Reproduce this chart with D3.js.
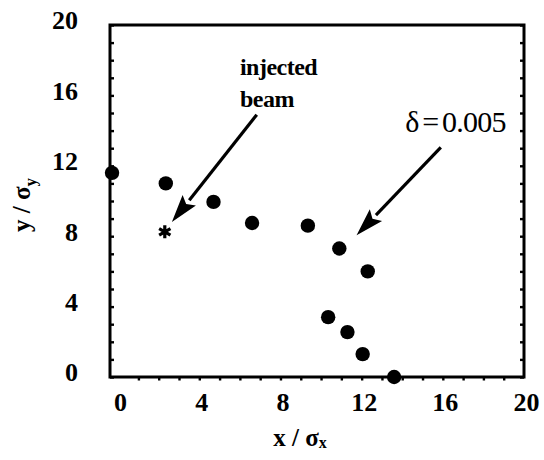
<!DOCTYPE html>
<html>
<head>
<meta charset="utf-8">
<script src="https://cdn.jsdelivr.net/npm/d3@7"></script>
<style>
	body { margin: 0; background: #fff; }
	text { font-family: 'Liberation Serif', 'DejaVu Serif', serif; fill: #000; }
</style>
</head>
<body>
<div id="chart"></div>
<script>
// beam centroid positions, one dot per turn
var xValues = [-0.3, 2.35, 4.7, 6.6, 9.35, 10.9, 12.3, 10.35, 11.3, 12.05, 13.6];
var yValues = [11.6, 11.0, 9.95, 8.75, 8.6, 7.3, 6.0, 3.4, 2.55, 1.3, 0];

// the injected beam (star)
var injectedX = [2.3];
var injectedY = [8.25];

var tickLabels = [0, 4, 8, 12, 16, 20];
var minorTicks = d3.range(0, 21, 1);

var width = 544, height = 460;
var svg = d3.select('#chart').append('svg').attr('width', width).attr('height', height);

var xScale = d3.scaleLinear().domain([-0.4, 20]).range([110, 524]);
var yScale = d3.scaleLinear().domain([0, 20]).range([377, 25]);

var stroke = '#000';

// frame
svg.append('rect')
	.attr('x', xScale(-0.4))
	.attr('y', yScale(20))
	.attr('width', xScale(20) - xScale(-0.4))
	.attr('height', yScale(0) - yScale(20))
	.attr('fill', 'none')
	.attr('stroke', stroke)
	.attr('stroke-width', 3);

// minor ticks
var leftTicks = svg.append('g')
	.attr('transform', 'translate(' + xScale(-0.4) + ',0)')
	.call(d3.axisLeft(yScale).tickValues(minorTicks).tickSize(-4).tickFormat(''));
var rightTicks = svg.append('g')
	.attr('transform', 'translate(' + xScale(20) + ',0)')
	.call(d3.axisRight(yScale).tickValues(minorTicks).tickSize(-4).tickFormat(''));
var bottomTicks = svg.append('g')
	.attr('transform', 'translate(0,' + yScale(0) + ')')
	.call(d3.axisBottom(xScale).tickValues(minorTicks.slice(1, 20)).tickSize(3.5).tickFormat(''));

[leftTicks, rightTicks, bottomTicks].forEach(function(g) {
	g.select('.domain').remove();
	g.selectAll('line').attr('stroke', stroke).attr('stroke-width', 2.4);
});

// tick labels
var yLabels = svg.append('g')
	.attr('transform', 'translate(' + (xScale(-0.4) - 29) + ',0)')
	.call(d3.axisLeft(yScale).tickValues(tickLabels).tickSize(0));
yLabels.select('.domain').remove();
yLabels.selectAll('text')
	.attr('dy', '0.3em')
	.attr('dx', 0)
	.style('font-family', "'Liberation Serif', serif")
	.style('font-weight', 'bold')
	.style('font-size', '26px')
	.attr('fill', '#000')
	.attr('transform', 'translate(0,-4)');

var xLabels = svg.append('g')
	.attr('transform', 'translate(2,' + (yScale(0) + 8) + ')')
	.call(d3.axisBottom(xScale).tickValues(tickLabels).tickSize(0));
xLabels.select('.domain').remove();
xLabels.selectAll('text')
	.attr('dy', '0.9em')
	.style('font-family', "'Liberation Serif', serif")
	.style('font-weight', 'bold')
	.style('font-size', '26px')
	.attr('fill', '#000');

// axis titles
var xTitle = svg.append('text')
	.attr('x', 300)
	.attr('y', 446)
	.attr('text-anchor', 'middle')
	.style('font-weight', 'bold')
	.style('font-size', '25px');
xTitle.append('tspan').text('x / σ');
xTitle.append('tspan').attr('dy', 2).style('font-size', '16px').text('x');

var yTitle = svg.append('text')
	.attr('transform', 'translate(30,205) rotate(-90)')
	.attr('text-anchor', 'middle')
	.style('font-weight', 'bold')
	.style('font-size', '25px');
yTitle.append('tspan').text('y / σ');
yTitle.append('tspan').attr('dy', 6).style('font-size', '17px').text('y');

// dots
var dots = xValues.map(function(x, i) { return { x: x, y: yValues[i] }; });

svg.append('g').selectAll('circle')
	.data(dots)
	.enter().append('circle')
	.attr('cx', function(d) { return xScale(d.x); })
	.attr('cy', function(d) { return yScale(d.y); })
	.attr('r', 7.2)
	.attr('fill', '#000');

// injected beam star
svg.append('path')
	.attr('d', d3.symbol(d3.symbolAsterisk, 120)())
	.attr('transform', 'translate(' + xScale(injectedX[0]) + ',' + yScale(injectedY[0]) + ')')
	.attr('stroke', '#000')
	.attr('stroke-width', 3.2)
	.attr('fill', 'none');

// annotations
function arrow(x1, y1, x2, y2) {
	var sx = xScale(x1), sy = yScale(y1), ex = xScale(x2), ey = yScale(y2);
	var ang = Math.atan2(ey - sy, ex - sx);
	var len = 28, half = 8.5;
	var bx = ex - len * Math.cos(ang), by = ey - len * Math.sin(ang);
	svg.append('line')
		.attr('x1', sx).attr('y1', sy)
		.attr('x2', bx).attr('y2', by)
		.attr('stroke', '#000')
		.attr('stroke-width', 3.2);
	var pts = [
		[ex, ey],
		[bx + half * Math.sin(ang), by - half * Math.cos(ang)],
		[bx + 5 * Math.cos(ang), by + 5 * Math.sin(ang)],
		[bx - half * Math.sin(ang), by + half * Math.cos(ang)]
	];
	svg.append('path')
		.attr('d', d3.line()(pts) + 'Z')
		.attr('fill', '#000');
}

arrow(6.83, 14.9, 2.65, 8.8);
arrow(15.9, 13.05, 11.75, 8.05);

svg.append('text')
	.attr('x', xScale(6.0))
	.attr('y', yScale(17.15))
	.style('font-weight', 'bold')
	.style('font-size', '24px')
	.style('letter-spacing', '-0.5px')
	.text('injected');
svg.append('text')
	.attr('x', xScale(6.0))
	.attr('y', yScale(15.35))
	.style('font-weight', 'bold')
	.style('font-size', '24px')
	.style('letter-spacing', '-0.5px')
	.text('beam');

svg.append('text')
	.attr('x', xScale(14.15))
	.attr('y', yScale(13.9))
	.style('font-size', '30px')
	.style('letter-spacing', '-0.8px')
	.style('word-spacing', '-3px')
	.text('δ = 0.005');
</script>
</body>
</html>
